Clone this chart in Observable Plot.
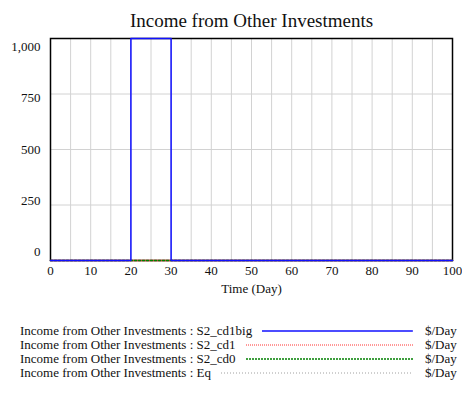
<!DOCTYPE html>
<html>
<head>
<meta charset="utf-8">
<script src="https://cdn.jsdelivr.net/npm/d3@7"></script>
<script src="https://cdn.jsdelivr.net/npm/@observablehq/plot@0.6"></script>
<style>
  html, body { margin: 0; padding: 0; background: #fff; }
  #wrap { position: relative; width: 462px; height: 404px; font-family: "Liberation Serif", serif; color: #111; }
  #chart { position: absolute; left: 0; top: 0; }
  .row { position: absolute; left: 20px; width: 393px; height: 14px; display: flex; align-items: center; font-size: 13px; line-height: 14px; white-space: nowrap; }
  .row .ln { flex: 1; margin-left: 10px; height: 4px; }
  .unit { position: absolute; left: 425px; font-size: 13px; line-height: 14px; height: 14px; }
</style>
</head>
<body>
<div id="wrap"><div id="chart"></div><div id="legend"></div></div>
<script>
const title = "Income from Other Investments";
const xLabel = "Time (Day)";
const time = [0, 20, 30, 100];
const s2cd1big = [0, 1000, 0, 0];
const s2cd1 = [0, 0, 0, 0];
const s2cd0 = [0, 0, 0, 0];
const eq = [0, 0, 0, 0];
const seriesNames = ["Income from Other Investments : S2_cd1big", "Income from Other Investments : S2_cd1", "Income from Other Investments : S2_cd0", "Income from Other Investments : Eq"];
const seriesColors = ["#1010ff", "#ff3030", "#008000", "#a0a0a0"];
const unit = "$/Day";
const xTicks = [0, 10, 20, 30, 40, 50, 60, 70, 80, 90, 100];
const xGrid = [5, 10, 15, 20, 25, 30, 35, 40, 45, 50, 55, 60, 65, 70, 75, 80, 85, 90, 95];
const yTicks = [0, 250, 500, 750, 1000];
const yGrid = [250, 500, 750];

const mk = vals => time.map((t, i) => ({t, v: vals[i]}));
const font = "Liberation Serif";

const yLabelMarks = yTicks.map(v => Plot.text([v], {
  x: 0, y: d => d, text: d => d3.format(",")(d), fontFamily: font,
  textAnchor: "end", dx: -10, dy: (v - 500) / 500 * 8.5, fontSize: 13, fill: "#111"
}));

const chart = Plot.plot({
  width: 462, height: 300,
  marginLeft: 50, marginRight: 10, marginTop: 38, marginBottom: 40,
  style: {fontFamily: font, background: "#fff"},
  x: {domain: [0, 100], axis: null},
  y: {domain: [0, 1000], axis: null},
  marks: [
    Plot.ruleX(xGrid, {stroke: "#d2d2d2", strokeWidth: 1}),
    Plot.ruleY(yGrid, {stroke: "#d2d2d2", strokeWidth: 1}),
    Plot.frame({stroke: "#000", strokeWidth: 1.5}),
    Plot.line(mk(eq), {x: "t", y: "v", curve: "step-after", stroke: seriesColors[3], strokeWidth: 1, strokeDasharray: "1,2"}),
    Plot.line(mk(s2cd1), {x: "t", y: "v", curve: "step-after", stroke: seriesColors[1], strokeWidth: 1.5}),
    Plot.line(mk(s2cd0), {x: "t", y: "v", curve: "step-after", stroke: seriesColors[2], strokeWidth: 1.5, strokeDasharray: "2,2"}),
    Plot.line(mk(s2cd1big), {x: "t", y: "v", curve: "step-after", stroke: seriesColors[0], strokeWidth: 1.5}),
    Plot.axisX(xTicks, {tickSize: 0, tickPadding: 5, fontSize: 13, fontFamily: font, label: null, fill: "#111"}),
    ...yLabelMarks,
    Plot.text([xLabel], {frameAnchor: "bottom", dy: 32, fontSize: 13, fontFamily: font, fill: "#111"}),
    Plot.text([title], {frameAnchor: "top", dy: -25, fontSize: 19, fontFamily: font, fill: "#111"})
  ]
});
document.getElementById("chart").appendChild(chart);

const legend = document.getElementById("legend");
const dashes = [null, "1,1", "2,1", "1,2"];
const widths = [1.5, 1, 1.5, 1];
seriesNames.forEach((name, i) => {
  const top = 324 + i * 14;
  const row = document.createElement("div");
  row.className = "row";
  row.style.top = top + "px";
  const sp = document.createElement("span");
  sp.textContent = name;
  row.appendChild(sp);
  const ln = document.createElement("div");
  ln.className = "ln";
  ln.innerHTML = `<svg width="100%" height="4" style="display:block"><line x1="0" x2="100%" y1="2" y2="2" stroke="${seriesColors[i]}" stroke-width="${widths[i]}" ${dashes[i] ? `stroke-dasharray="${dashes[i]}"` : ""}/></svg>`;
  row.appendChild(ln);
  legend.appendChild(row);
  const u = document.createElement("div");
  u.className = "unit";
  u.style.top = top + "px";
  u.textContent = unit;
  legend.appendChild(u);
});
</script>
</body>
</html>
